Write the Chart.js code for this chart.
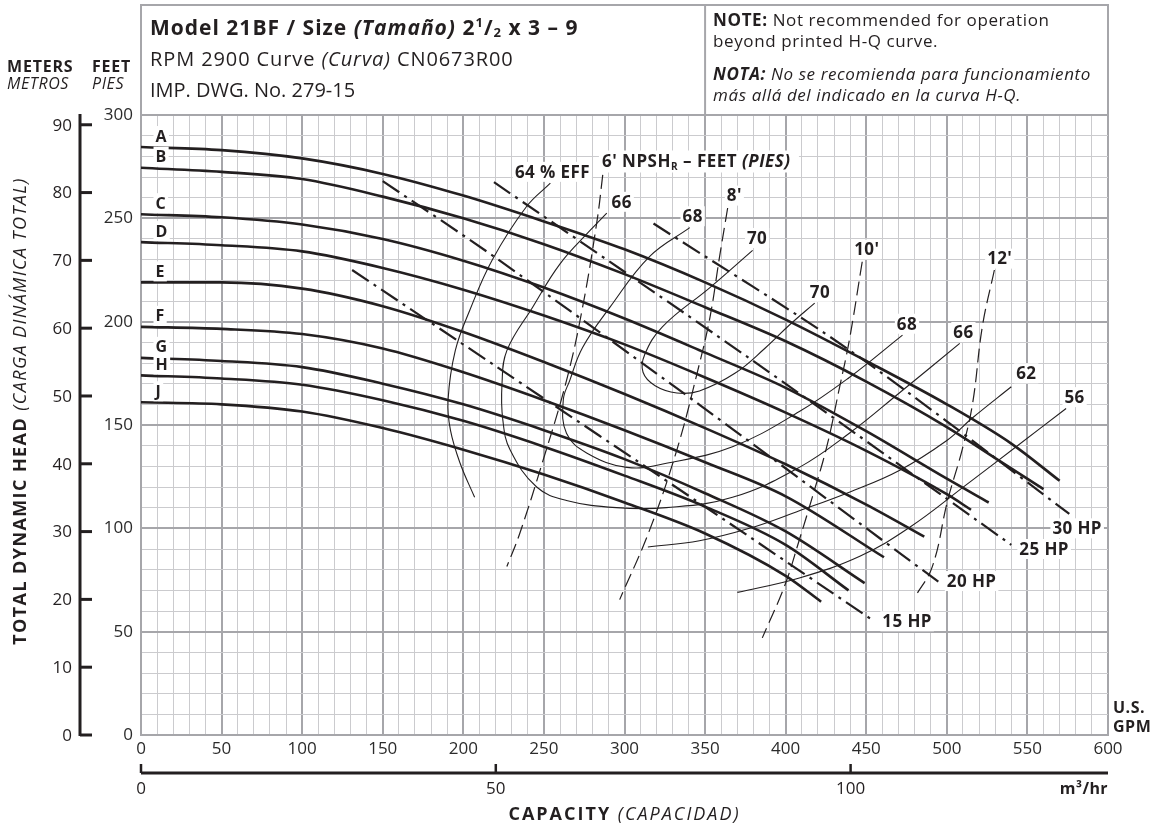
<!DOCTYPE html>
<html>
<head>
<meta charset="utf-8">
<title>Model 21BF pump curve</title>
<script src="https://cdn.jsdelivr.net/npm/chart.js@4"></script>
<style>
  body { margin: 0; background: #fff; }
  canvas { display: block; }
</style>
</head>
<body>
<canvas id="pump-curve" width="1156" height="828"></canvas>
<script>
// Head-capacity curves per impeller trim (capacity in US GPM, head in feet)
const qA = [0, 50, 100, 150, 200, 250, 300, 350, 400, 450, 500, 540, 570];
const hA = [284.5, 283, 279, 271.5, 261, 248.5, 235, 219, 201, 181, 160, 141, 123];
const qB = [0, 50, 100, 150, 200, 250, 300, 350, 400, 450, 500, 530, 560];
const hB = [274.5, 272.5, 269, 260.5, 250, 237.5, 223, 207, 190.5, 171, 149, 134, 119];
const qC = [0, 50, 100, 150, 200, 250, 300, 350, 400, 450, 500, 526];
const hC = [252, 250.5, 247, 240, 229.5, 216.5, 201.5, 185, 168, 147, 124, 112.5];
const qD = [0, 50, 100, 150, 200, 250, 300, 350, 400, 450, 500, 515];
const hD = [238.5, 237, 234, 226, 215.5, 203, 189, 173, 156, 137.5, 116.5, 109];
const qE = [0, 50, 100, 150, 200, 250, 300, 350, 400, 450, 486];
const hE = [219, 219, 216, 207.5, 195, 180.5, 165, 148.5, 131, 111.5, 96];
const qF = [0, 50, 100, 150, 200, 250, 300, 350, 400, 461];
const hF = [197.5, 196.5, 194, 187, 175.5, 162, 147.5, 132, 115.5, 86];
const qG = [0, 50, 100, 150, 200, 250, 300, 350, 400, 449];
const hG = [182.5, 181, 178, 170, 160, 147.5, 133.5, 117, 98.5, 73.5];
const qH = [0, 50, 100, 150, 200, 250, 300, 350, 400, 439];
const hH = [174, 172.5, 169.5, 162, 152, 139.5, 125.5, 110.5, 92, 70];
const qJ = [0, 50, 100, 150, 200, 250, 300, 350, 400, 422];
const hJ = [161, 160, 156.5, 148.5, 138, 126, 112.5, 97.5, 77, 64.5];
const trimNames = ['A', 'B', 'C', 'D', 'E', 'F', 'G', 'H', 'J'];

// Efficiency curves (%)
const eff64Q = [254, 239, 218, 204, 195, 190.5, 192, 198, 207];
const eff64H = [267, 255.5, 230, 205.5, 186, 162, 147.5, 131.5, 115];
const eff66Q = [289, 278.5, 260, 243, 227, 224, 224.5, 229, 245.5, 264, 295, 326, 367, 408.5, 439.5, 470.5, 508];
const eff66H = [252.5, 244, 228, 207, 186, 170, 152.5, 138, 120, 113.5, 110, 110, 115, 129.5, 146, 165.5, 189.5];
const eff68Q = [340.5, 315.5, 291, 274, 266, 262, 264, 276.5, 301.5, 326, 367, 408.5, 439.5, 472.5];
const eff68H = [245.5, 231.5, 207, 187.5, 171.5, 162, 146, 136.5, 129.5, 131.5, 139.5, 156.5, 173, 193.5];
const eff70Q = [379.5, 353, 323.5, 312.5, 311.5, 319, 332.5, 346.5, 368.5, 387, 402.5, 418];
const eff70H = [234.5, 216.5, 197.5, 184, 175.5, 169, 165.5, 166.5, 175, 187, 198.5, 209];
const eff62Q = [314.5, 346.5, 377.5, 408.5, 439.5, 470.5, 500, 516, 540];
const eff62H = [91, 94, 100, 108.5, 117.5, 128, 142.5, 153.5, 168.5];
const eff56Q = [370, 408.5, 446, 477, 512, 543, 574];
const eff56H = [69, 76, 86.5, 100.5, 121, 139.5, 158];

// NPSHr curves (feet)
const npsh6Q = [286.5, 283, 274, 264, 249.5, 235, 227];
const npsh6H = [271, 249, 207, 171.5, 133, 97.5, 81.5];
const npsh8Q = [364, 359, 353, 345.5, 332.5, 315.5, 297];
const npsh8H = [255, 231.5, 202, 176.5, 138, 99, 65.5];
const npsh10Q = [447.5, 439.5, 433.5, 425.5, 416.5, 408.5, 399.5, 385.5];
const npsh10H = [229, 191, 168.5, 139.5, 115, 94.5, 72.5, 47];
const npsh12Q = [529.5, 522, 516, 509.5, 500.5, 491, 480];
const npsh12H = [225, 197.5, 160.5, 138, 113.5, 81.5, 66.5];

// Motor horsepower limits
const hp15Q = [131, 221, 347, 455];
const hp15H = [225, 178, 112, 55];
const hp20Q = [150, 219, 347, 495];
const hp20H = [268, 231.5, 159.5, 74];
const hp25Q = [219, 378, 540];
const hp25H = [267.5, 182, 92];
const hp30Q = [318, 440, 576];
const hp30H = [247.5, 186, 107];

// Tick labels
const gpmTicks = [0, 50, 100, 150, 200, 250, 300, 350, 400, 450, 500, 550, 600];
const feetTicks = [0, 50, 100, 150, 200, 250, 300];
const meterTicks = [0, 10, 20, 30, 40, 50, 60, 70, 80, 90];
const m3hTicks = [0, 50, 100];

const FT_PER_M = 3.28084;
const GPM_PER_M3H = 4.40287;

// in-plot callouts: text, capacity, head (left edge / vertical centre)
const callouts = [
  ['64 % EFF', 232, 272.5], ['66', 292, 258], ['68', 336, 251], ['70', 376, 240.5],
  ['70', 415, 214.5], ['68', 469, 199], ['66', 504, 195], ['62', 543, 175], ['56', 573, 163.5],
  ["8'", 363.5, 261], ["10'", 442.5, 235], ["12'", 525, 230.5],
  ['15 HP', 460, 55], ['20 HP', 500, 74.5], ['25 HP', 545, 90], ['30 HP', 565.5, 100]
];

const INK = '#231f20';
const MAJOR = '#a6a6aa';
const MINOR = '#cbcbce';
const FAM = "'Open Sans', sans-serif";
const f = (size, weight, style) => `${style || 'normal'} ${weight || 'normal'} ${size}px ${FAM}`;

const pts = (q, h) => q.map((v, i) => ({ x: v, y: h[i] }));

const headSets = [[qA, hA], [qB, hB], [qC, hC], [qD, hD], [qE, hE], [qF, hF], [qG, hG], [qH, hH], [qJ, hJ]]
  .map((c, i) => ({
    label: trimNames[i], data: pts(c[0], c[1]), showLine: true, borderColor: INK,
    borderWidth: 2.6, pointRadius: 0, cubicInterpolationMode: 'monotone'
  }));

const effSets = [[eff64Q, eff64H], [eff66Q, eff66H], [eff68Q, eff68H], [eff70Q, eff70H], [eff62Q, eff62H], [eff56Q, eff56H]]
  .map(c => ({ data: pts(c[0], c[1]), showLine: true, borderColor: INK, borderWidth: 1.1, pointRadius: 0, tension: 0.4 }));

const npshSets = [[npsh6Q, npsh6H], [npsh8Q, npsh8H], [npsh10Q, npsh10H], [npsh12Q, npsh12H]]
  .map(c => ({ data: pts(c[0], c[1]), showLine: true, borderColor: INK, borderWidth: 1.2, borderDash: [14, 6], pointRadius: 0, tension: 0.4 }));

const hpSets = [[hp15Q, hp15H], [hp20Q, hp20H], [hp25Q, hp25H], [hp30Q, hp30H]]
  .map(c => ({ data: pts(c[0], c[1]), showLine: true, borderColor: INK, borderWidth: 2.2, borderDash: [20, 6, 3, 6], pointRadius: 0, tension: 0.3 }));

// draws a row of differently styled text pieces
function runs(ctx, list, x, y, align, spacing) {
  ctx.letterSpacing = (spacing || 0) + 'px';
  let w = 0;
  list.forEach(r => { ctx.font = r[1]; w += ctx.measureText(r[0]).width; });
  let cx = align === 'center' ? x - w / 2 : align === 'right' ? x - w : x;
  list.forEach(r => {
    ctx.font = r[1];
    ctx.fillText(r[0], cx, y + (r[2] || 0));
    cx += ctx.measureText(r[0]).width;
  });
  ctx.letterSpacing = '0px';
  return w;
}

function boxed(ctx, text, font, x, y) {
  ctx.letterSpacing = '0.4px';
  ctx.font = font;
  const w = ctx.measureText(text).width;
  ctx.fillStyle = '#fff';
  ctx.fillRect(x - 2, y - 10, w + 4, 20);
  ctx.fillStyle = INK;
  ctx.fillText(text, x, y + 1);
  ctx.letterSpacing = '0px';
}

const decor = {
  id: 'decor',
  afterDraw(chart) {
    const { ctx, chartArea: a } = chart;
    const xs = chart.scales.x, ys = chart.scales.y;
    ctx.save();
    ctx.fillStyle = INK;

    // header box
    ctx.strokeStyle = MAJOR;
    ctx.lineWidth = 2;
    ctx.strokeRect(a.left, 5, a.right - a.left, a.top - 5);
    const div = xs.getPixelForValue(350);
    ctx.beginPath(); ctx.moveTo(div, 5); ctx.lineTo(div, a.top); ctx.stroke();

    ctx.textBaseline = 'alphabetic';
    ctx.textAlign = 'left';
    runs(ctx, [['Model 21BF / Size ', f(21, 'bold')], ['(Tamaño)', f(21, 'bold', 'italic')], [' 2', f(21, 'bold')],
      ['1', f(13, 'bold'), -8], ['/', f(21, 'bold')], ['2', f(13, 'bold'), 2], [' x 3 – 9', f(21, 'bold')]], 150, 35, 'left', 1);
    runs(ctx, [['RPM 2900 Curve ', f(20)], ['(Curva)', f(20, 'normal', 'italic')], [' CN0673R00', f(20)]], 150, 66, 'left', 0.9);
    runs(ctx, [['IMP. DWG. No. 279-15', f(20)]], 150, 97);

    runs(ctx, [['NOTE:', f(17, 'bold')], [' Not recommended for operation', f(17)]], div + 8, 26, 'left', 0.6);
    runs(ctx, [['beyond printed H-Q curve.', f(17)]], div + 8, 47, 'left', 0.6);
    runs(ctx, [['NOTA:', f(17, 'bold', 'italic')], [' No se recomienda para funcionamiento', f(17, 'normal', 'italic')]], div + 8, 80, 'left', 0.6);
    runs(ctx, [['más allá del indicado en la curva H-Q.', f(17, 'normal', 'italic')]], div + 8, 101, 'left', 0.6);

    // unit headings
    runs(ctx, [['METERS', f(16, 'bold')]], 7, 72, 'left', 0.8);
    runs(ctx, [['FEET', f(16, 'bold')]], 92, 72, 'left', 0.8);
    runs(ctx, [['METROS', f(16, 'normal', 'italic')]], 7, 89, 'left', 0.6);
    runs(ctx, [['PIES', f(16, 'normal', 'italic')]], 92, 89, 'left', 0.6);

    // metre scale
    const mx = 80;
    ctx.strokeStyle = INK;
    ctx.lineWidth = 3;
    ctx.beginPath(); ctx.moveTo(mx, ys.getPixelForValue(0) + 1); ctx.lineTo(mx, a.top - 1); ctx.stroke();
    ctx.textBaseline = 'middle';
    meterTicks.forEach(m => {
      const py = ys.getPixelForValue(m * FT_PER_M);
      ctx.beginPath(); ctx.moveTo(mx, py); ctx.lineTo(mx + 12, py); ctx.stroke();
      runs(ctx, [[String(m), f(17)]], 72, py + 1, 'right');
    });

    // vertical title
    ctx.save();
    ctx.translate(21, 411);
    ctx.rotate(-Math.PI / 2);
    runs(ctx, [['TOTAL DYNAMIC HEAD', f(18, 'bold')], [' (CARGA DINÁMICA TOTAL)', f(18, 'normal', 'italic')]], 0, 0, 'center', 1.4);
    ctx.restore();

    // m3/hr scale
    const my = 773;
    ctx.lineWidth = 3;
    ctx.beginPath(); ctx.moveTo(a.left, my); ctx.lineTo(a.right, my); ctx.stroke();
    m3hTicks.forEach(v => {
      const px = xs.getPixelForValue(v * GPM_PER_M3H);
      ctx.lineWidth = 2.5;
      ctx.beginPath(); ctx.moveTo(px, my); ctx.lineTo(px, my - 9); ctx.stroke();
      runs(ctx, [[String(v), f(17)]], px, 789, 'center');
    });
    runs(ctx, [['m³/hr', f(16, 'bold')]], a.right, 789, 'right', 0.4);
    runs(ctx, [['U.S.', f(16, 'bold')]], a.right + 5, 708, 'left', 0.5);
    runs(ctx, [['GPM', f(16, 'bold')]], a.right + 5, 727, 'left', 0.5);
    runs(ctx, [['CAPACITY', f(18, 'bold')], [' (CAPACIDAD)', f(18, 'normal', 'italic')]], (a.left + a.right) / 2, 815, 'center', 2);

    // trim letters
    chart.data.datasets.forEach(ds => {
      if (!trimNames.includes(ds.label)) return;
      const py = ys.getPixelForValue(ds.data[0].y) - 11;
      const px = xs.getPixelForValue(9);
      boxed(ctx, ds.label, f(16, 'bold'), px, py);
    });

    // callouts
    callouts.forEach(c => boxed(ctx, c[0], f(17, 'bold'), xs.getPixelForValue(c[1]), ys.getPixelForValue(c[2])));

    // NPSH title
    const nx = xs.getPixelForValue(286), ny = ys.getPixelForValue(277.5);
    ctx.fillStyle = '#fff';
    ctx.fillRect(nx - 3, ny - 11, 200, 22);
    ctx.fillStyle = INK;
    runs(ctx, [["6' NPSH", f(17, 'bold')], ['R', f(10, 'bold'), 5], [' – FEET ', f(17, 'bold')], ['(PIES)', f(17, 'bold', 'italic')]], nx, ny + 1, 'left', 0.5);

    ctx.restore();
  }
};

new Chart(document.getElementById('pump-curve'), {
  type: 'scatter',
  data: { datasets: [...headSets, ...hpSets, ...effSets, ...npshSets] },
  options: {
    responsive: false,
    animation: false,
    layout: { padding: { top: 115, right: 48, left: 0, bottom: 0 } },
    plugins: { legend: { display: false }, tooltip: { enabled: false } },
    scales: {
      x: {
        type: 'linear', min: 0, max: 600,
        afterFit(s) { s.height = 93; },
        ticks: {
          stepSize: 10, autoSkip: false, maxRotation: 0, padding: 4, color: '#2b2b2b',
          font: { family: FAM, size: 17 },
          callback: v => gpmTicks.includes(v) ? String(v) : ''
        },
        grid: {
          drawTicks: false,
          color: c => (c.tick && c.tick.value % 50 === 0) ? MAJOR : MINOR,
          lineWidth: c => (c.tick && c.tick.value % 50 === 0) ? 2 : 1
        },
        border: { color: MAJOR, width: 2 }
      },
      y: {
        type: 'linear', min: 0, max: 300,
        afterFit(s) { s.width = 141; },
        ticks: {
          stepSize: 10, autoSkip: false, padding: 8, color: '#2b2b2b',
          font: { family: FAM, size: 17 },
          callback: v => feetTicks.includes(v) ? String(v) : ''
        },
        grid: {
          drawTicks: false,
          color: c => (c.tick && c.tick.value % 50 === 0) ? MAJOR : MINOR,
          lineWidth: c => (c.tick && c.tick.value % 50 === 0) ? 2 : 1
        },
        border: { color: MAJOR, width: 2 }
      }
    }
  },
  plugins: [decor]
});
</script>
</body>
</html>
